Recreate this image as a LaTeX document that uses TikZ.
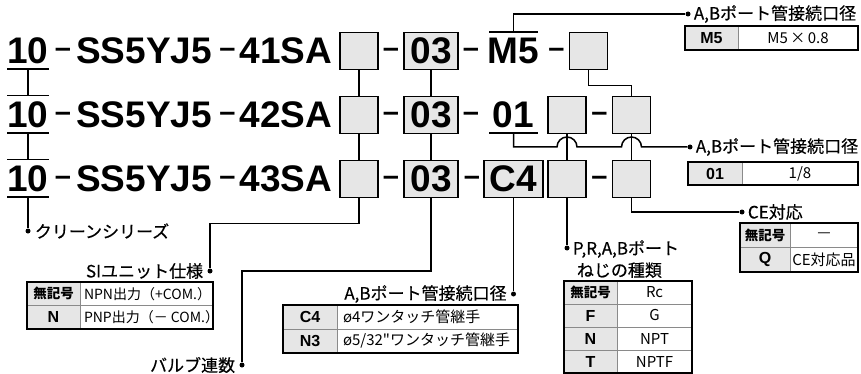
\documentclass[tikz,border=0pt]{standalone}
\usepackage{fontspec}
\setmainfont{Liberation Sans}
\newfontfamily\jpfont{Noto Sans CJK JP}
\newfontfamily\jplabel[FakeBold=0.4]{Noto Sans CJK JP}
\usepackage{xcolor}
\usepackage{tikz}
\usetikzlibrary{positioning}

\definecolor{slotgray}{HTML}{E6E6E6}
\definecolor{gridgray}{HTML}{8A8A8A}
\newcommand{\nokey}{{\jpfont\fontsize{13.5}{13.5}\selectfont\bfseries 無記号}}

\begin{document}
\begin{tikzpicture}[
  x=1pt, y=-1pt,
  code/.style={
    inner sep=0pt,
    font=\fontsize{37}{37}\selectfont\bfseries
  },
  hyph/.style={
    inner sep=0pt,
    yshift=-2pt,
    font=\fontsize{29}{29}\selectfont\bfseries
  },
  slot/.style={
    draw,
    line width=1.8pt,
    fill=slotgray,
    minimum width=38pt,
    minimum height=37pt,
    inner sep=0pt,
    font=\fontsize{37}{37}\selectfont\bfseries
  },
  link/.style={line width=1.5pt},
  dot/.style={circle, fill, inner sep=0pt, minimum size=5pt},
  lbl/.style={inner sep=0pt, font=\jplabel\fontsize{17}{22}\selectfont},
  keycell/.style={
    draw=gridgray,
    fill=slotgray,
    inner sep=0pt,
    outer sep=0pt,
    font=\fontsize{16}{16}\selectfont\bfseries
  },
  valcell/.style={
    draw=gridgray,
    inner sep=0pt,
    outer sep=0pt,
    font=\jpfont\fontsize{15}{15}\selectfont
  },
  tblframe/.style={line width=1.2pt}
]
\useasboundingbox (0,0) rectangle (861,374);

\node[code] (ten1) at (28,51) {10};
\node[hyph] (h11) at (63,51) {–};
\node[code] (ser1) at (144,51) {SS5YJ5};
\node[hyph] (h12) at (227.5,51) {–};
\node[code] (man1) at (286,51) {41SA};
\node[slot] (si1) at (359,51) {};
\node[hyph] (h13) at (391,51) {–};
\node[slot, minimum width=54pt] (val1) at (431,51) {03};
\node[hyph] (h14) at (471,51) {–};
\node[code] (port1) at (513.5,51) {M5};
\node[hyph] (h15) at (556.5,51) {–};
\node[slot] (ce1) at (588.5,51) {};

\node[code] (ten2) at (28,115) {10};
\node[hyph] (h21) at (63,115) {–};
\node[code] (ser2) at (144,115) {SS5YJ5};
\node[hyph] (h22) at (227.5,115) {–};
\node[code] (man2) at (286,115) {42SA};
\node[slot] (si2) at (359,115) {};
\node[hyph] (h23) at (391,115) {–};
\node[slot, minimum width=54pt] (val2) at (431,115) {03};
\node[hyph] (h24) at (471,115) {–};
\node[code] (port2) at (513.5,115) {01};
\node[slot] (thr2) at (567,115) {};
\node[hyph] (h25) at (599.5,115) {–};
\node[slot] (ce2) at (631.5,115) {};

\node[code] (ten3) at (28,179) {10};
\node[hyph] (h31) at (63,179) {–};
\node[code] (ser3) at (144,179) {SS5YJ5};
\node[hyph] (h32) at (227.5,179) {–};
\node[code] (man3) at (286,179) {43SA};
\node[slot] (si3) at (359,179) {};
\node[hyph] (h33) at (391,179) {–};
\node[slot, minimum width=54pt] (val3) at (431,179) {03};
\node[hyph] (h34) at (472,179) {–};
\node[slot, minimum width=59pt] (port3) at (513.5,179) {C4};
\node[slot] (thr3) at (567,179) {};
\node[hyph] (h35) at (599.5,179) {–};
\node[slot] (ce3) at (631.5,179) {};

\draw[link] ([yshift=-4.5pt]ten1.south west) -- ([yshift=-4.5pt]ten1.south east);
\draw[link] ([yshift=6pt]ten2.north west) -- ([yshift=6pt]ten2.north east);
\draw[link] ([yshift=-4.5pt]ten2.south west) -- ([yshift=-4.5pt]ten2.south east);
\draw[link] ([yshift=6pt]ten3.north west) -- ([yshift=6pt]ten3.north east);
\draw[link] ([yshift=-4.5pt]ten3.south west) -- ([yshift=-4.5pt]ten3.south east);
\draw[link] ([yshift=-4.5pt]ten1.south) -- ([yshift=6pt]ten2.north);
\draw[link] ([yshift=-4.5pt]ten2.south) -- ([yshift=6pt]ten3.north);

\draw[link] (si1.south) -- (si2.north);
\draw[link] (si2.south) -- (si3.north);
\draw[link] (val1.south) -- (val2.north);
\draw[link] (val2.south) -- (val3.north);
\draw[link] (thr2.south) -- (thr3.north);
\draw[link] (ce2.south) -- (ce3.north);
\draw[link] (ce1.south) -- ++(0,15) -| (ce2.north);

\draw[link] ([xshift=-24.5pt, yshift=6pt]port1.north) -- ([xshift=24.5pt, yshift=6pt]port1.north);
\node[dot] (dM5) at (688,14) {};
\draw[link] ([yshift=6pt]port1.north) |- (dM5);
\node[lbl, right=3pt of dM5] (lM5) {A,Bポート管接続口径};

\draw[link] ([xshift=-24.5pt, yshift=-4.5pt]port2.south) -- ([xshift=24.5pt, yshift=-4.5pt]port2.south);
\node[dot] (d01) at (690,147) {};
\coordinate (hop1) at (thr2 |- d01);
\coordinate (hop2) at (ce2 |- d01);
\draw[link] ([yshift=-4.5pt]port2.south) |- ([xshift=-10pt]hop1)
  arc[start angle=180, end angle=0, radius=10pt] -- ([xshift=-10pt]hop2)
  arc[start angle=180, end angle=0, radius=10pt] -- (d01);
\node[lbl, right=3pt of d01] (l01) {A,Bポート管接続口径};

\node[dot] (dCl) at (28,231) {};
\draw[link] ([yshift=-4.5pt]ten3.south) -- (dCl);
\node[lbl, right=4pt of dCl] (lCl) {クリーンシリーズ};

\node[dot] (dSI) at (210,271) {};
\draw[link] (si3.south) -- ++(0,25) -| (dSI);
\node[lbl, left=4pt of dSI] (lSI) {SIユニット仕様};

\node[dot] (dVal) at (242,365) {};
\draw[link] (val3.south) -- ++(0,72.5) -| (dVal);
\node[lbl, left=4pt of dVal] (lVal) {バルブ連数};

\node[dot] (dC4) at (513.5,294) {};
\draw[link] (port3.south) -- (dC4);
\node[lbl, left=4pt of dC4] (lC4) {A,Bポート管接続口径};

\node[dot] (dThr) at (567,248) {};
\draw[link] (thr3.south) -- (dThr);
\node[lbl, align=left, right=3pt of dThr, yshift=-11pt] (lThr) {P,R,A,Bポート\\\hspace*{4pt}ねじの種類};

\node[dot] (dCE) at (742,212) {};
\draw[link] (ce3.south) |- (dCE);
\node[lbl, right=3pt of dCE] (lCE) {CE対応};

\node[keycell, minimum width=53pt, minimum height=24pt, anchor=north west] (m5k) at (685,26) {M5};
\node[valcell, minimum width=120pt, minimum height=24pt, right=0pt of m5k] (m5v) {M5\,×\,0.8};
\draw[tblframe] (m5k.north west) rectangle (m5v.south east);

\node[keycell, minimum width=54pt, minimum height=23pt, anchor=north west] (o1k) at (688,162) {01};
\node[valcell, minimum width=116pt, minimum height=23pt, right=0pt of o1k] (o1v) {1/8};
\draw[tblframe] (o1k.north west) rectangle (o1v.south east);

\node[keycell, minimum width=53pt, minimum height=23.5pt, anchor=north west] (sik1) at (27,282) {\nokey};
\node[valcell, font=\jpfont\fontsize{14}{14}\selectfont, minimum width=133pt, minimum height=23.5pt, right=0pt of sik1] (siv1) {\makebox[125pt][l]{NPN出力（+COM.）}};
\node[keycell, minimum width=53pt, minimum height=23.5pt, below=0pt of sik1] (sik2) {N};
\node[valcell, font=\jpfont\fontsize{14}{14}\selectfont, minimum width=133pt, minimum height=23.5pt, right=0pt of sik2] (siv2) {\makebox[125pt][l]{PNP出力（－ COM.）}};
\draw[tblframe] (sik1.north west) rectangle (siv2.south east);

\node[keycell, minimum width=54pt, minimum height=24pt, anchor=north west] (c4k1) at (283,305) {C4};
\node[valcell, minimum width=181pt, minimum height=24pt, right=0pt of c4k1] (c4v1) {\makebox[169pt][l]{ø4ワンタッチ管継手}};
\node[keycell, minimum width=54pt, minimum height=24pt, below=0pt of c4k1] (c4k2) {N3};
\node[valcell, minimum width=181pt, minimum height=24pt, right=0pt of c4k2] (c4v2) {\makebox[169pt][l]{ø5/32"ワンタッチ管継手}};
\draw[tblframe] (c4k1.north west) rectangle (c4v2.south east);

\node[keycell, minimum width=53pt, minimum height=23pt, anchor=north west] (thk1) at (564,281) {\nokey};
\node[valcell, minimum width=75pt, minimum height=23pt, right=0pt of thk1] (thv1) {Rc};
\node[keycell, minimum width=53pt, minimum height=23pt, below=0pt of thk1] (thk2) {F};
\node[valcell, minimum width=75pt, minimum height=23pt, right=0pt of thk2] (thv2) {G};
\node[keycell, minimum width=53pt, minimum height=23pt, below=0pt of thk2] (thk3) {N};
\node[valcell, minimum width=75pt, minimum height=23pt, right=0pt of thk3] (thv3) {NPT};
\node[keycell, minimum width=53pt, minimum height=23pt, below=0pt of thk3] (thk4) {T};
\node[valcell, minimum width=75pt, minimum height=23pt, right=0pt of thk4] (thv4) {NPTF};
\draw[tblframe] (thk1.north west) rectangle (thv4.south east);

\node[keycell, minimum width=50pt, minimum height=24.5pt, anchor=north west] (cek1) at (740,223) {\nokey};
\node[valcell, minimum width=68pt, minimum height=24.5pt, right=0pt of cek1] (cev1) {—};
\node[keycell, minimum width=50pt, minimum height=24.5pt, below=0pt of cek1] (cek2) {Q};
\node[valcell, minimum width=68pt, minimum height=24.5pt, right=0pt of cek2] (cev2) {CE対応品};
\draw[tblframe] (cek1.north west) rectangle (cev2.south east);

\end{tikzpicture}
\end{document}
